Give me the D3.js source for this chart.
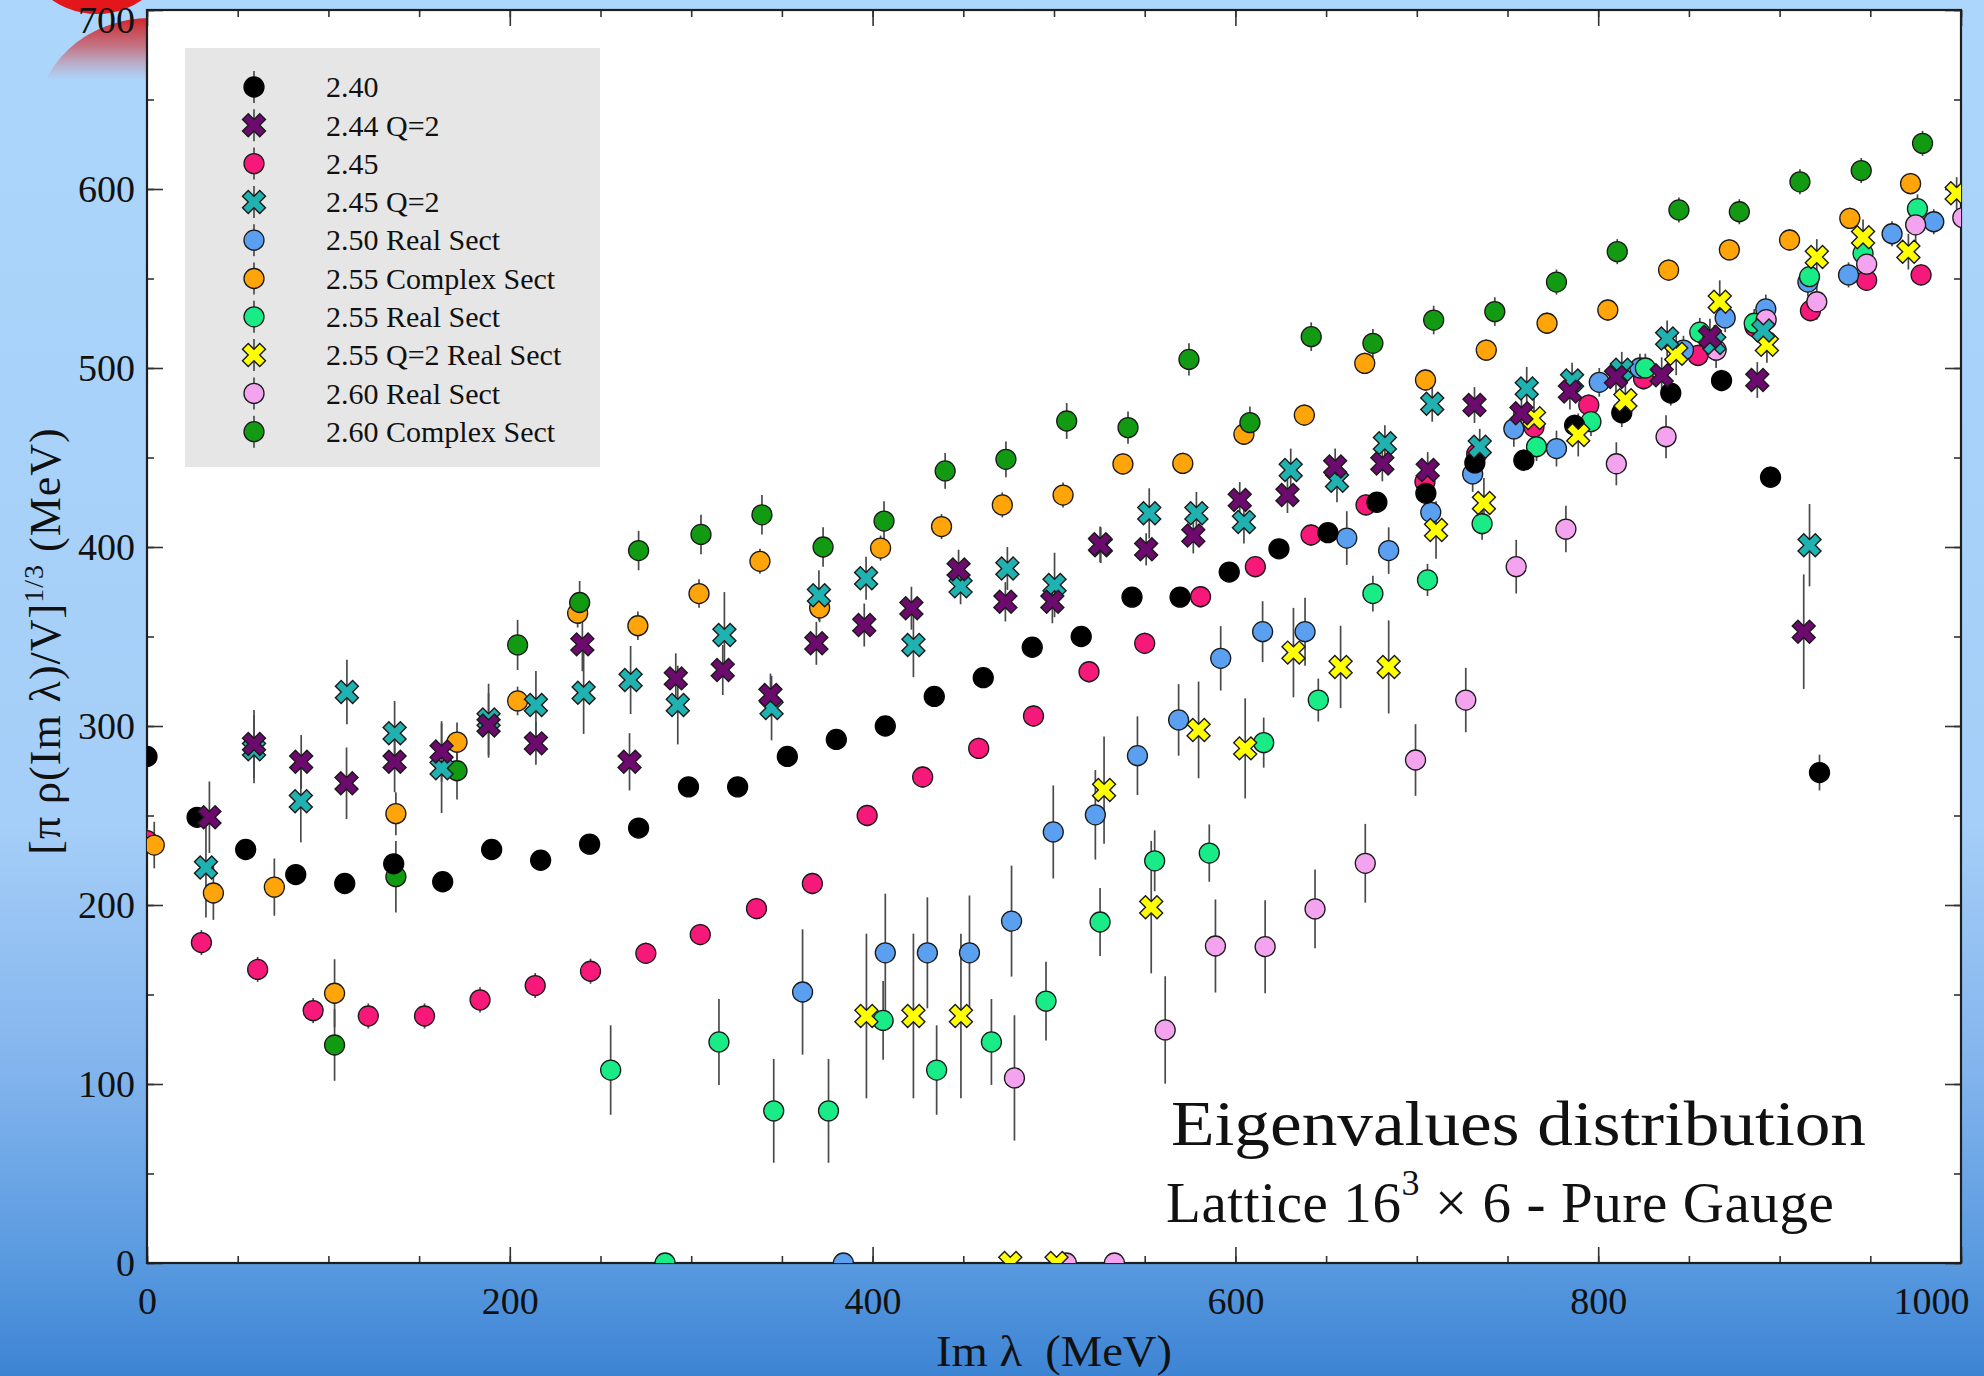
<!DOCTYPE html>
<html>
<head>
<meta charset="utf-8">
<script src="https://cdn.jsdelivr.net/npm/d3@7"></script>
<style>
  html, body { margin: 0; padding: 0; overflow: hidden; background: #aad4fb; }
  text { font-family: "Liberation Serif", "DejaVu Serif", serif; fill: #111; }
</style>
</head>
<body>
<svg id="chart" width="1984" height="1376"></svg>
<script>
// ---- Data: [Im lambda (MeV), value (MeV), error] per ensemble ----
const beta240 = [[0,283,5],[27.6,249,5],[54.4,231,5],[82,217,5],[109,212,5],[136,223,5],[163,213,5],[190,231,5],[217,225,5],[244,234,5],[271,243,5],[298.5,266,5],[325.6,266,5],[353,283,5],[380,292.5,5],[407,300,5],[434,316.5,5],[461,327,5],[488,344,5],[515,350,5],[543,372,5],[569.5,372,5],[596.6,386,5],[624,399,5],[651,408,5],[678,425,5],[705,430,5],[732,447,5],[759,448.5,6],[787,468,6],[813,475,8],[840,486,7],[868,493,6],[895,439,6],[922,274,10]];

const beta244Q2 = [[34.4,249,20],[59,290,19],[85,280,15],[110,268,20],[136.5,280,17],[162.4,285.7,17],[188.3,300.3,18],[214.4,290.3,12],[240,345.6,15],[266,280,16],[291.5,326.6,14],[317.4,331.3,14],[343.7,317.3,12],[369,346.2,12],[395.4,356.4,12],[421.4,365.8,12],[447.4,387.5,11],[473.2,369.4,11],[499.1,369.4,12],[525.4,401.5,10],[550.8,398.7,9],[576.8,406.4,10],[602.4,426.3,10],[628.7,429,10],[655,445,10],[681,446.7,10],[706,443,10],[731.8,479.3,10],[757.7,474.7,10],[784.4,486.8,10],[809.8,495,10],[835,496,10],[861.6,517.5,10],[887.7,493.3,10],[913.3,352.7,32]];

const beta245 = [[0,236,7],[30,179,7],[61,164,7],[91.6,141,7],[122,138,7],[153,138,7],[183.6,147,7],[214,155,7],[244.5,163,7],[275,173,6],[305,183.5,6],[336,198,6],[366.8,212,6],[397,250,6],[427.6,271.5,6],[458.5,287.5,6],[488.7,305.6,6],[519.3,330.3,6],[550,346.2,6],[580.8,372.2,6],[611,389,6],[641.7,406.7,6],[672,423.5,6],[704.5,436.5,6],[733,452,6],[764.6,467,6],[794.8,479.3,6],[825,494,6],[855,507,6],[886.4,523,6],[917,532,6],[948,549,6],[978,552,6]];

const beta245Q2 = [[32.5,221,28],[59,287,19],[84.8,258,23],[110.2,319,18],[136.5,296,18],[162.4,276.4,25],[188.3,303.6,20],[214.4,311.7,19],[240.7,318.6,23],[266.6,325.7,19],[292.6,311.7,22],[318.3,350.8,24],[344.3,310,18],[370.4,373,14],[396.4,382.5,12],[422.5,345.3,18],[448.5,378,10],[474.3,388,12],[500.3,378.8,18],[525.8,401,10],[552.5,418.8,14],[578.5,418.8,12],[604.7,414,12],[630.5,443,12],[656,437,12],[682.4,458,10],[708.5,480,10],[734.7,456,10],[760.6,488.6,12],[785.6,493,10],[813,499,10],[838,516.5,10],[864,514,10],[891,521,12],[916.5,401,23]];

const beta250Real = [[361.4,151.4,35],[383.9,0,0],[407,173.3,33],[430.2,173.3,31],[453.4,173.3,32],[476.6,191,31],[499.6,240.8,26],[522.8,250.4,25],[546,283.4,22],[568.7,303.4,20],[591.9,337.8,18],[615,352.7,17],[638.4,352.7,19],[661.4,405,15],[684.5,398,13],[707.7,419.4,12],[730.8,440.8,10],[753.5,466,10],[777,455,10],[800.6,492,8],[823,500,8],[847,510,8],[870,528,8],[892.4,533,8],[915.6,548,8],[938,552,7],[962,575,7],[985,581.7,7]];

const beta255Complex = [[4,233.5,13],[36.6,206.7,15],[70.2,210,16],[103.4,150.7,19],[137.2,251,12],[170.9,291,11],[204.3,314,8],[237.4,363,8],[270.6,356,8],[304.3,374,8],[337.9,392,7],[370.8,366,8],[404.4,399.4,7],[438,411.4,7],[471.5,423.5,7],[505,429,7],[538,446.4,6],[571,446.7,6],[604.7,463,6],[638,473.7,6],[671.3,502.6,6],[704.8,493.3,6],[738.3,510,6],[771.8,525,6],[805.3,532.4,6],[838.8,554.7,6],[872.3,566,6],[905.5,571.5,6],[938.7,583.6,6],[972.2,603,6]];

const beta255Real = [[255.6,107.8,25],[285.6,0,0],[315.3,123.5,24],[345.5,85,29],[375.7,85,29],[405.8,135.5,22],[435.3,107.8,25],[465.5,123.5,24],[495.6,146.3,22],[525.4,190.5,19],[555.5,224.7,17],[585.6,229,16],[615.6,290.7,14],[645.7,314.5,12],[675.8,374,10],[705.9,381.6,9],[736,413,9],[766,456,8],[796,470,8],[826,500,8],[856,520,8],[886,525,8],[916.5,551,8],[946,564,8],[976,589,8]];

const beta255Q2Real = [[396.6,138,46],[422.5,138,46],[448.7,138,46],[475.9,0,0],[501.4,0,0],[527.6,264.2,30],[553.6,198.8,37],[579.7,297.8,27],[605.4,287.5,28],[632,341,25],[658,333,23],[684.5,333,26],[710.6,409.5,16],[737,424.6,14],[764.6,472,12],[789,462.6,12],[815,482,12],[843,508,12],[867,537,12],[893,513,10],[920.5,562,10],[946,573,10],[971,565,10],[997.6,597.6,9]];

const beta260Real = [[478.2,103.4,35],[506.8,0,0],[533.3,0,0],[561.3,130.2,30],[589,177.1,26],[616.4,176.7,26],[643.9,197.8,22],[671.6,223.3,22],[699.3,281,20],[727,314.5,18],[754.8,389,15],[782.2,410,13],[810,446.5,12],[837.4,461.6,12],[865,510,10],[892.6,527,10],[920.5,537,10],[948,558,10],[975,580,10],[1001,584,10]];

const beta260Complex = [[103.4,121.8,20],[137.2,215.8,20],[170.9,275,16],[204.3,345.3,14],[238.5,369,12],[271,398,11],[305.4,407,11],[339,418,11],[372.7,400,11],[406.3,414.5,11],[440,442.5,10],[473.5,449,10],[507,470.4,10],[540.8,466.7,9],[574.4,504.8,9],[608,469.5,9],[641.8,517.5,8],[675.8,513.8,8],[709.3,526.8,8],[743,531.5,8],[777,548,7],[810.5,565,7],[844.5,588.3,7],[877.8,587.3,7],[911.2,604,7],[945,610.3,7],[978.8,625.5,7]];

// Legend labels, marker shapes and fills (legend order)
const legendLabels = ["2.40", "2.44 Q=2", "2.45", "2.45 Q=2", "2.50 Real Sect", "2.55 Complex Sect", "2.55 Real Sect", "2.55 Q=2 Real Sect", "2.60 Real Sect", "2.60 Complex Sect"];
const seriesData   = [beta240, beta244Q2, beta245, beta245Q2, beta250Real, beta255Complex, beta255Real, beta255Q2Real, beta260Real, beta260Complex];
const seriesShape  = ["circle", "x", "circle", "x", "circle", "circle", "circle", "x", "circle", "circle"];
const seriesFill   = ["#000000", "#6d0a6d", "#f7197a", "#20b2b0", "#5b9ff0", "#ffa50a", "#19ec86", "#ffff00", "#f4a4ef", "#129b12"];
// painting order (index into the lists above)
const drawOrder = [2, 4, 5, 6, 8, 9, 0, 7, 3, 1];

const xTicksMajor = d3.range(0, 1001, 200);
const xTicksMinor = d3.range(0, 1001, 50);
const yTicksMajor = d3.range(0, 701, 100);
const yTicksMinor = d3.range(0, 701, 50);

// ---- Layout ----
const W = 1984, H = 1376;
const plot = { left: 147, right: 1961, top: 10, bottom: 1263 };
const x = d3.scaleLinear().domain([0, 1000]).range([plot.left, plot.right]);
const y = d3.scaleLinear().domain([0, 700]).range([plot.bottom, plot.top]);

const svg = d3.select("#chart");
const defs = svg.append("defs");

const bg = defs.append("linearGradient").attr("id", "bgGrad")
  .attr("x1", 0).attr("y1", 0).attr("x2", 0).attr("y2", 1);
[[0, "#add6fc"], [0.6, "#a5cef8"], [0.78, "#82b4ed"], [0.92, "#5899df"], [1, "#3d84d4"]]
  .forEach(([o, c]) => bg.append("stop").attr("offset", o).attr("stop-color", c));

const fade = defs.append("linearGradient").attr("id", "redFade")
  .attr("x1", 0).attr("y1", 0).attr("x2", 0).attr("y2", 1);
fade.append("stop").attr("offset", 0).attr("stop-color", "#d21a1e").attr("stop-opacity", 0.95);
fade.append("stop").attr("offset", 0.14).attr("stop-color", "#d2363a").attr("stop-opacity", 0.6);
fade.append("stop").attr("offset", 0.3).attr("stop-color", "#d8666a").attr("stop-opacity", 0);

defs.append("clipPath").attr("id", "plotClip").append("rect")
  .attr("x", plot.left).attr("y", plot.top)
  .attr("width", plot.right - plot.left).attr("height", plot.bottom - plot.top);

// slide background
svg.append("rect").attr("width", W).attr("height", H).attr("fill", "url(#bgGrad)");
svg.append("ellipse").attr("cx", 150).attr("cy", 122).attr("rx", 114).attr("ry", 104)
  .attr("fill", "url(#redFade)");
svg.append("circle").attr("cx", 97).attr("cy", -65).attr("r", 79).attr("fill", "#e3161b");

// plot panel
svg.append("rect").attr("x", plot.left).attr("y", plot.top)
  .attr("width", plot.right - plot.left).attr("height", plot.bottom - plot.top)
  .attr("fill", "#ffffff");

// ---- Axes (ticks point inward) ----
function styleAxis(g) {
  g.select(".domain").remove();
  g.selectAll(".tick line").attr("stroke", "#333").attr("stroke-width", 1.6);
  g.selectAll("text").attr("font-size", 38).attr("font-family", "Liberation Serif, serif").attr("fill", "#111");
}
const MAJ = 16, MIN = 7;

svg.append("g").attr("transform", `translate(0,${plot.bottom})`)
  .call(d3.axisBottom(x).tickValues(xTicksMinor).tickSize(-MIN).tickFormat(""))
  .call(styleAxis);
const xb = svg.append("g").attr("transform", `translate(0,${plot.bottom})`)
  .call(d3.axisBottom(x).tickValues(xTicksMajor).tickSize(-MAJ).tickPadding(24).tickFormat(d3.format("d")))
  .call(styleAxis);
xb.selectAll(".tick text").filter(d => d === 1000).attr("text-anchor", "end").attr("x", 8);

svg.append("g").attr("transform", `translate(0,${plot.top})`)
  .call(d3.axisTop(x).tickValues(xTicksMinor).tickSize(-MIN).tickFormat(""))
  .call(styleAxis);
svg.append("g").attr("transform", `translate(0,${plot.top})`)
  .call(d3.axisTop(x).tickValues(xTicksMajor).tickSize(-MAJ).tickFormat(""))
  .call(styleAxis);

svg.append("g").attr("transform", `translate(${plot.left},0)`)
  .call(d3.axisLeft(y).tickValues(yTicksMinor).tickSize(-MIN).tickFormat(""))
  .call(styleAxis);
const yl = svg.append("g").attr("transform", `translate(${plot.left},0)`)
  .call(d3.axisLeft(y).tickValues(yTicksMajor).tickSize(-MAJ).tickPadding(12).tickFormat(d3.format("d")))
  .call(styleAxis);
// keep the top label inside the page
yl.selectAll(".tick text").filter(d => d === 700).attr("y", 10);

svg.append("g").attr("transform", `translate(${plot.right},0)`)
  .call(d3.axisRight(y).tickValues(yTicksMinor).tickSize(-MIN).tickFormat(""))
  .call(styleAxis);
svg.append("g").attr("transform", `translate(${plot.right},0)`)
  .call(d3.axisRight(y).tickValues(yTicksMajor).tickSize(-MAJ).tickFormat(""))
  .call(styleAxis);

// frame
svg.append("rect").attr("x", plot.left).attr("y", plot.top)
  .attr("width", plot.right - plot.left).attr("height", plot.bottom - plot.top)
  .attr("fill", "none").attr("stroke", "#1e1e1e").attr("stroke-width", 2.2);

// ---- Legend ----
const legend = svg.append("g");
legend.append("rect").attr("x", 185).attr("y", 48).attr("width", 415).attr("height", 419).attr("fill", "#e6e6e6");

const crossPath = d3.symbol().type(d3.symbolCross).size(330)();

function drawMarker(g, shape, fill) {
  if (shape === "x") {
    g.append("path").attr("d", crossPath).attr("transform", "rotate(45)")
      .attr("fill", fill).attr("stroke", "#1a1a1a").attr("stroke-width", 1.4);
  } else {
    g.append("circle").attr("r", 10).attr("fill", fill)
      .attr("stroke", fill === "#000000" ? "#000" : "#1a1a1a").attr("stroke-width", 1.3);
  }
}

legendLabels.forEach((label, i) => {
  const ly = 87 + i * 38.3;
  legend.append("line").attr("x1", 254).attr("x2", 254).attr("y1", ly - 16).attr("y2", ly + 16)
    .attr("stroke", "#444").attr("stroke-width", 1.6);
  const m = legend.append("g").attr("transform", `translate(254,${ly})`);
  drawMarker(m, seriesShape[i], seriesFill[i]);
  legend.append("text").attr("x", 326).attr("y", ly).attr("dy", "0.34em")
    .attr("font-size", 30).text(label);
});

// ---- Points with error bars ----
const pts = svg.append("g").attr("clip-path", "url(#plotClip)");
const bars = pts.append("g");
drawOrder.forEach(si => {
  bars.selectAll(null).data(seriesData[si].filter(d => d[2] > 0)).join("line")
    .attr("x1", d => x(d[0])).attr("x2", d => x(d[0]))
    .attr("y1", d => y(d[1] + d[2])).attr("y2", d => y(d[1] - d[2]))
    .attr("stroke", "#4a4a4a").attr("stroke-width", 1.7);
});
drawOrder.forEach(si => {
  const g = pts.append("g");
  seriesData[si].forEach(d => {
    const m = g.append("g").attr("transform", `translate(${x(d[0])},${y(d[1])})`);
    drawMarker(m, seriesShape[si], seriesFill[si]);
  });
});

// ---- Axis titles ----
svg.append("text").attr("x", (plot.left + plot.right) / 2).attr("y", 1366)
  .attr("text-anchor", "middle").attr("font-size", 44)
  .attr("textLength", 236).attr("lengthAdjust", "spacingAndGlyphs")
  .text("Im \u03bb\u00a0\u00a0(MeV)");

const yt = svg.append("text").attr("transform", "translate(60,641) rotate(-90)")
  .attr("text-anchor", "middle").attr("font-size", 44).attr("letter-spacing", 1);
yt.append("tspan").text("[\u03c0 \u03c1(Im \u03bb)/V]");
yt.append("tspan").attr("font-size", 28).attr("dy", -17).text("1/3");
yt.append("tspan").attr("dy", 17).text("\u00a0(MeV)");

// ---- Annotation ----
svg.append("text").attr("x", 1171).attr("y", 1145).attr("font-size", 64)
  .attr("textLength", 695).attr("lengthAdjust", "spacingAndGlyphs")
  .text("Eigenvalues distribution");
const sub = svg.append("text").attr("x", 1166).attr("y", 1222).attr("font-size", 57)
  .attr("letter-spacing", 0.6);
sub.append("tspan").text("Lattice 16");
sub.append("tspan").attr("font-size", 36).attr("dy", -27).text("3");
sub.append("tspan").attr("dy", 27).text("\u00a0\u00d7 6 - Pure Gauge");
</script>
</body>
</html>
